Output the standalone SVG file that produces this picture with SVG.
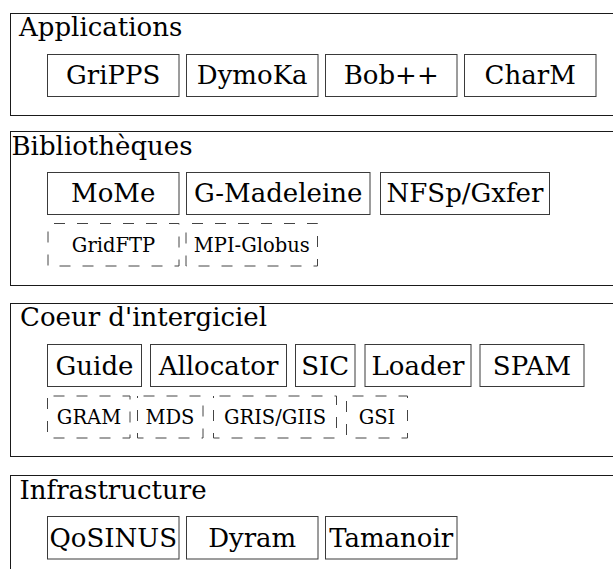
<svg xmlns="http://www.w3.org/2000/svg" width="613" height="569" viewBox="0 0 613 569">
<style>
.layer{fill:none;stroke:#1a1a1a;stroke-width:1}
.box{fill:#fff;stroke:#3a3a3a;stroke-width:1}
.dash{fill:none;stroke:#444;stroke-width:1;stroke-dasharray:11 12;stroke-dashoffset:17}
text{font-family:"DejaVu Serif",serif;fill:#000}
.title{font-size:26px}
.lbl{font-size:26px;text-anchor:middle}
.sm{font-size:19.5px;text-anchor:middle}
</style>
<rect width="613" height="569" fill="#fff"/>
<g id="layer-applications">
<rect class="layer" x="10.5" y="13.5" width="640" height="102"/>
<text class="title" x="19" y="36">Applications</text>
</g>
<g id="n-gripps"><rect class="box" x="47.5" y="54.5" width="131.5" height="42"/><text class="lbl" x="113.2" y="84">GriPPS</text></g>
<g id="n-dymoka"><rect class="box" x="186.5" y="54.5" width="131.5" height="42"/><text class="lbl" x="252.2" y="84">DymoKa</text></g>
<g id="n-bob"><rect class="box" x="325.5" y="54.5" width="131.5" height="42"/><text class="lbl" x="391.2" y="84">Bob++</text></g>
<g id="n-charm"><rect class="box" x="464.5" y="54.5" width="131.5" height="42"/><text class="lbl" x="530.2" y="84">CharM</text></g>

<g id="layer-bibliotheques">
<rect class="layer" x="10.5" y="131.5" width="640" height="154"/>
<text class="title" x="11.5" y="155">Bibliothèques</text>
</g>
<g id="n-mome"><rect class="box" x="47.5" y="172.5" width="131.5" height="42"/><text class="lbl" x="113.2" y="202">MoMe</text></g>
<g id="n-gmadeleine"><rect class="box" x="186.5" y="172.5" width="183.5" height="42"/><text class="lbl" x="278.2" y="202">G-Madeleine</text></g>
<g id="n-nfsp"><rect class="box" x="380.5" y="172.5" width="169" height="42"/><text class="lbl" x="465" y="202">NFSp/Gxfer</text></g>
<g id="n-gridftp"><rect class="dash" x="48" y="223.5" width="131" height="42.5"/><text class="sm" x="113.5" y="251.5">GridFTP</text></g>
<g id="n-mpiglobus"><rect class="dash" x="186" y="223.5" width="131.5" height="42.5"/><text class="sm" x="251.8" y="251.5">MPI-Globus</text></g>

<g id="layer-coeur">
<rect class="layer" x="10.5" y="303.5" width="640" height="153"/>
<text class="title" x="20" y="326">Coeur d'intergiciel</text>
</g>
<g id="n-guide"><rect class="box" x="47.5" y="344.5" width="94" height="42"/><text class="lbl" x="94.5" y="374.5">Guide</text></g>
<g id="n-allocator"><rect class="box" x="150.5" y="344.5" width="136" height="42"/><text class="lbl" x="218.5" y="374.5">Allocator</text></g>
<g id="n-sic"><rect class="box" x="295.5" y="344.5" width="59.5" height="42"/><text class="lbl" x="325.2" y="374.5">SIC</text></g>
<g id="n-loader"><rect class="box" x="365" y="344.5" width="106" height="42"/><text class="lbl" x="418" y="374.5">Loader</text></g>
<g id="n-spam"><rect class="box" x="480" y="344.5" width="104" height="42"/><text class="lbl" x="532" y="374.5">SPAM</text></g>
<g id="n-gram"><rect class="dash" x="47.5" y="396" width="82.5" height="42"/><text class="sm" x="89" y="424">GRAM</text></g>
<g id="n-mds"><rect class="dash" x="137.5" y="396" width="65.5" height="42"/><text class="sm" x="170" y="424">MDS</text></g>
<g id="n-grisgiis"><rect class="dash" x="213.5" y="396" width="123" height="42"/><text class="sm" x="275" y="424">GRIS/GIIS</text></g>
<g id="n-gsi"><rect class="dash" x="346.5" y="396" width="61" height="42"/><text class="sm" x="377" y="424">GSI</text></g>

<g id="layer-infrastructure">
<rect class="layer" x="10.5" y="475.5" width="640" height="140"/>
<text class="title" x="19.5" y="499">Infrastructure</text>
</g>
<g id="n-qosinus"><rect class="box" x="47.5" y="516.5" width="131.5" height="42.5"/><text class="lbl" x="113.2" y="546.5">QoSINUS</text></g>
<g id="n-dyram"><rect class="box" x="186.5" y="516.5" width="131.5" height="42.5"/><text class="lbl" x="252.2" y="546.5">Dyram</text></g>
<g id="n-tamanoir"><rect class="box" x="325.5" y="516.5" width="131.5" height="42.5"/><text class="lbl" x="391.2" y="546.5">Tamanoir</text></g>
<g id="connectors"></g>
</svg>
